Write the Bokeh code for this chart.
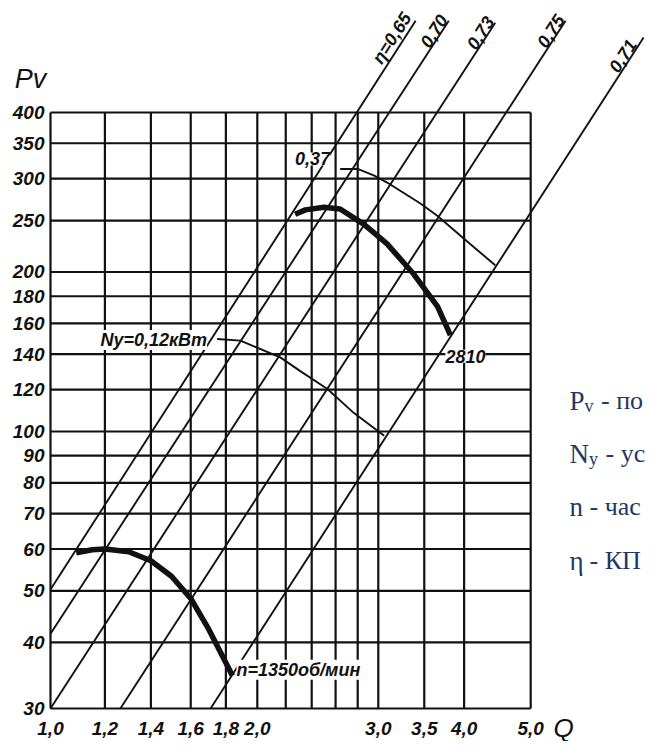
import math
from bokeh.plotting import figure
from bokeh.models import Range1d
from bokeh.core.properties import value
from bokeh.embed import file_html
from bokeh.resources import INLINE

# ---------------- data ----------------
q_grid = [1.0, 1.2, 1.4, 1.6, 1.8, 2.0, 2.2, 2.4, 2.6, 2.8, 3.0, 3.5, 4.0, 5.0]
q_tick_vals = [1.0, 1.2, 1.4, 1.6, 1.8, 2.0, 3.0, 3.5, 4.0, 5.0]
q_tick_labels = ["1,0", "1,2", "1,4", "1,6", "1,8", "2,0", "3,0", "3,5", "4,0", "5,0"]
pv_grid = [30, 40, 50, 60, 70, 80, 90, 100, 120, 140, 160, 180, 200, 250, 300, 350, 400]
pv_tick_labels = ["30", "40", "50", "60", "70", "80", "90", "100", "120", "140",
                  "160", "180", "200", "250", "300", "350", "400"]

# efficiency rays (eta)
eta_labels = ["η=0,65", "0,70", "0,73", "0,75", "0,71"]
eta_q0 = [1.0, 1.0, 1.0, 1.264, 1.71]
eta_p0 = [50.3, 41.5, 30.0, 30.0, 30.0]
eta_q1 = [3.40, 3.80, 4.44, 5.62, 7.30]
eta_p1 = [596, 596, 591, 596, 554]

# fan curves
n1350_q = [1.09, 1.15, 1.2, 1.3, 1.4, 1.5, 1.6, 1.7, 1.8, 1.84]
n1350_p = [59.0, 59.8, 60.0, 59.3, 57.0, 53.3, 48.4, 42.3, 36.6, 34.6]
n2810_q = [2.27, 2.35, 2.5, 2.64, 2.86, 3.09, 3.38, 3.66, 3.82]
n2810_p = [257, 262, 265, 263, 246, 226, 198, 172, 152]

# power curves
ny037_q = [2.64, 2.80, 2.96, 3.09, 3.46, 3.66, 4.03, 4.44]
ny037_p = [313, 313, 304, 295, 269, 255, 229, 206]
ny012_q = [1.748, 1.89, 2.16, 2.31, 2.53, 2.75, 3.06]
ny012_p = [149.5, 148.4, 138, 130, 120.3, 109, 98.2]

curve_labels = {"n1350": "n=1350об/мин", "n2810": "2810", "ny012": "Ny=0,12кВт", "ny037": "0,37"}

# explanatory legend on the right (the reference shows it cut by the page edge)
legend_main = ["P", "N", "n", "η"]
legend_sub = ["v", "y", "", ""]
legend_rest = ["\u00a0-\u00a0по", "\u00a0-\u00a0ус", "\u00a0-\u00a0час", "\u00a0-\u00a0КП"]

# ---------------- layout ----------------
W, H = 645, 741
# page pixel -> data: Q=1.0 at x=50, Q=5.0 at x=530; Pv=30 at y=708, Pv=400 at y=112
PX_Q1, PPD_X = 50.0, 687.0
PY_30, PPD_Y = 708.0, 529.8
X_LO = 10 ** ((0 - PX_Q1) / PPD_X)
X_HI = 10 ** ((W - PX_Q1) / PPD_X)
Y_LO = 30 * 10 ** ((PY_30 - H) / PPD_Y)
Y_HI = 30 * 10 ** ((PY_30 - 0) / PPD_Y)


def page_to_data(px, py):
    return 10 ** ((px - PX_Q1) / PPD_X), 30 * 10 ** ((PY_30 - py) / PPD_Y)


p = figure(width=W, height=H, x_axis_type="log", y_axis_type="log",
           x_range=Range1d(X_LO, X_HI), y_range=Range1d(Y_LO, Y_HI),
           output_backend="svg", toolbar_location=None,
           x_axis_location=None, y_axis_location=None, min_border=0)
p.grid.visible = False
p.outline_line_color = None
p.background_fill_color = "white"
p.border_fill_color = "white"

INK = "#111111"
FONT = value("Liberation Sans")
q_min, q_max = min(q_grid), max(q_grid)
p_min, p_max = min(pv_grid), max(pv_grid)

# grid
p.segment(x0=q_grid, y0=[p_min] * len(q_grid), x1=q_grid, y1=[p_max] * len(q_grid),
          line_color=INK, line_width=2.2)
p.segment(x0=[q_min] * len(pv_grid), y0=pv_grid, x1=[q_max] * len(pv_grid), y1=pv_grid,
          line_color=INK, line_width=2.2)

# eta rays
p.segment(x0=eta_q0, y0=eta_p0, x1=eta_q1, y1=eta_p1, line_color=INK, line_width=1.9)
angles = [math.atan2(math.log10(b1 / b0) * PPD_Y, math.log10(a1 / a0) * PPD_X)
          for a0, b0, a1, b1 in zip(eta_q0, eta_p0, eta_q1, eta_p1)]
p.text(x=eta_q1, y=eta_p1, text=eta_labels, angle=angles,
       text_align="right", text_baseline="bottom",
       x_offset=[0, 0, 0, 0, -6], y_offset=[-1, -1, -1, -1, 7],
       text_font=FONT, text_font_style="bold italic", text_font_size=value("18px"),
       text_color=INK)

# curves
p.line(ny012_q, ny012_p, line_color=INK, line_width=1.9)
p.line(ny037_q, ny037_p, line_color=INK, line_width=1.9)
p.line(n1350_q, n1350_p, line_color=INK, line_width=5.5, line_cap="butt", line_join="round")
p.line(n2810_q, n2810_p, line_color=INK, line_width=5.5, line_cap="butt", line_join="round")

lab_kw = dict(text_font=FONT, text_font_style="bold italic", text_font_size=value("18px"),
              text_color=INK, background_fill_color="white", text_baseline="middle")
p.text(x=[n1350_q[-1]], y=[n1350_p[-1]], text=[curve_labels["n1350"]],
       text_align="left", x_offset=4, y_offset=-6, **lab_kw)
p.text(x=[n2810_q[-1]], y=[n2810_p[-1]], text=[curve_labels["n2810"]],
       text_align="left", x_offset=-5, y_offset=21, **lab_kw)
p.text(x=[ny012_q[0]], y=[ny012_p[0]], text=[curve_labels["ny012"]],
       text_align="right", x_offset=-10, y_offset=1, **lab_kw)
p.text(x=[ny037_q[0]], y=[ny037_p[0]], text=[curve_labels["ny037"]],
       text_align="right", x_offset=-10, y_offset=-10, **lab_kw)

# tick labels
tick_kw = dict(text_font=FONT, text_font_style="bold italic", text_font_size=value("19px"),
               text_color=INK)
p.text(x=[q_min] * len(pv_grid), y=pv_grid, text=pv_tick_labels, text_align="right",
       text_baseline="middle", x_offset=-6, **tick_kw)
p.text(x=q_tick_vals, y=[p_min] * len(q_tick_vals), text=q_tick_labels, text_align="center",
       text_baseline="middle", y_offset=20, **tick_kw)

# axis names
qx, qy = page_to_data(563, 727)
p.text(x=[qx], y=[qy], text=["Q"], text_align="center", text_baseline="middle",
       text_font=FONT, text_font_style="italic", text_font_size=value("26px"), text_color=INK)
px_, py_ = page_to_data(30, 78)
p.text(x=[px_], y=[py_], text=["Pv"], text_align="center", text_baseline="middle",
       text_font=FONT, text_font_style="italic", text_font_size=value("27px"), text_color=INK)

# explanatory legend
NAVY = "#1f3864"
SERIF = value("Liberation Serif")
base_y = [400, 453, 506, 560]
main_w = [15, 19.5, 13.5, 13.5]
sub_w = [10, 10, 0, 0]
for m, s, r, by, mw, sw in zip(legend_main, legend_sub, legend_rest, base_y, main_w, sub_w):
    x0, y0 = page_to_data(569, by)
    p.text(x=[x0], y=[y0], text=[m], text_font=SERIF, text_font_size=value("27px"),
           text_color=NAVY, text_baseline="alphabetic")
    if s:
        xs, ys = page_to_data(569 + mw, by + 5)
        p.text(x=[xs], y=[ys], text=[s], text_font=SERIF, text_font_size=value("18px"),
               text_color=NAVY, text_baseline="alphabetic")
    xr, yr = page_to_data(569 + mw + sw, by)
    p.text(x=[xr], y=[yr], text=[r], text_font=SERIF, text_font_size=value("26px"),
           text_color=NAVY, text_baseline="alphabetic")

open("out.html", "w").write(file_html(p, INLINE))
